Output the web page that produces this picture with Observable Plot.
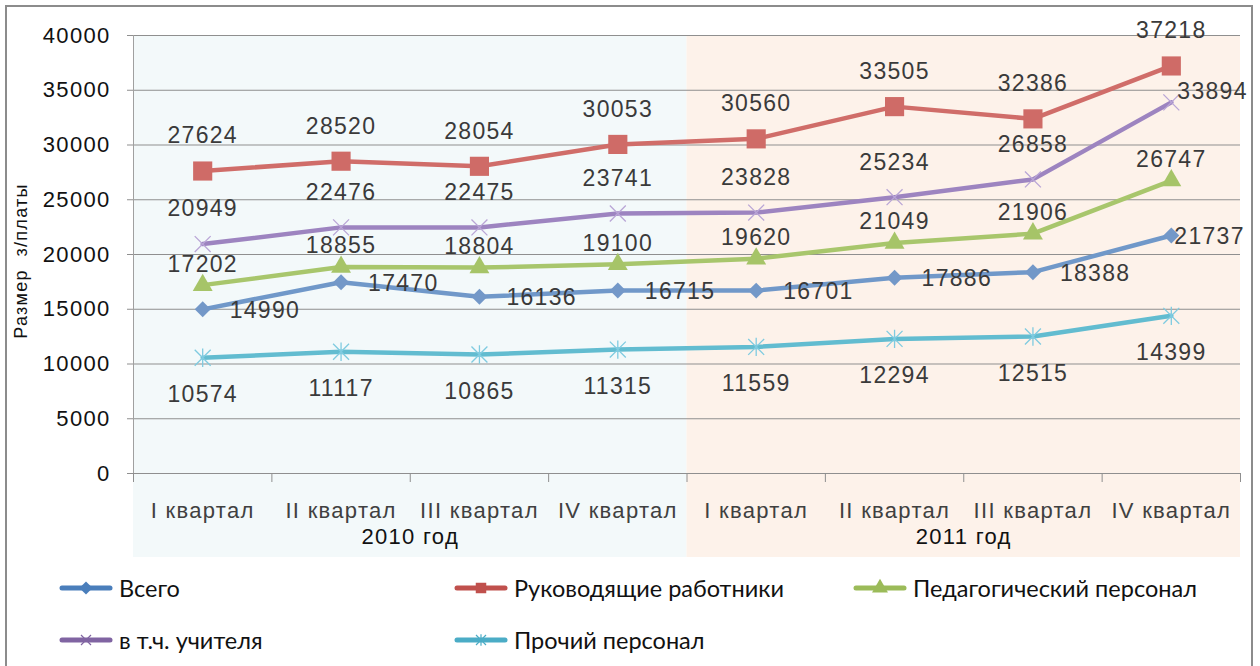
<!DOCTYPE html>
<html>
<head>
<meta charset="utf-8">
<script src="https://cdn.jsdelivr.net/npm/d3@7"></script>
<script src="https://cdn.jsdelivr.net/npm/@observablehq/plot@0.6"></script>
<style>
html, body { margin: 0; padding: 0; background: #fff; }
#wrap { position: relative; width: 1260px; height: 666px; overflow: hidden; font-family: "Liberation Sans", Arial, sans-serif; }
#frame { position: absolute; left: 5px; top: 5px; width: 1248px; height: 720px; border: 2px solid #8c8c8c; box-sizing: border-box; }
#chart { position: absolute; left: 0; top: 0; }
#chart svg text { letter-spacing: 1.3px; }
#legend { position: absolute; left: 0; top: 0; width: 1260px; height: 666px; pointer-events: none; font-family: Lato, "Open Sans", sans-serif; font-size: 23.5px; color: #111; }
.item { position: absolute; display: flex; align-items: center; height: 30px; white-space: nowrap; }
.item svg { margin-right: 5px; }
</style>
</head>
<body>
<div id="wrap">
  <div id="frame"></div>
  <div id="chart"></div>
  <div id="legend"></div>
</div>
<script>
// ---- data ----
const quarters = ["I квартал", "II квартал", "III квартал", "IV квартал", "I квартал", "II квартал", "III квартал", "IV квартал"];
const years = ["2010 год", "2011 год"];
const seriesNames = ["Всего", "Руководящие работники", "Педагогический персонал", "в т.ч. учителя", "Прочий персонал"];
const vsego   = [14990, 17470, 16136, 16715, 16701, 17886, 18388, 21737];
const rukovod = [27624, 28520, 28054, 30053, 30560, 33505, 32386, 37218];
const pedagog = [17202, 18855, 18804, 19100, 19620, 21049, 21906, 26747];
const uchitel = [20949, 22476, 22475, 23741, 23828, 25234, 26858, 33894];
const prochiy = [10574, 11117, 10865, 11315, 11559, 12294, 12515, 14399];
const yTicks = [0, 5000, 10000, 15000, 20000, 25000, 30000, 35000, 40000];
const yAxisTitle = "Размер  з/платы";

// ---- styling ----
const lineColors   = ["#7098c9", "#d06d69", "#a8c66c", "#9d84c0", "#62bcd0"];
const markerColors = ["#7398c8", "#cf6b67", "#a6c468", "#b9a5d6", "#7fcbe0"];
const legendColors = ["#4a7ebb", "#c0504d", "#9bbb59", "#8064a2", "#4bacc6"];
const panelColors  = ["#f3f9fa", "#fdf2ea"];

// custom symbols
const starSym = { draw(ctx, size) { const r = Math.sqrt(size) / 2;
  ctx.moveTo(-r, -r); ctx.lineTo(r, r); ctx.moveTo(r, -r); ctx.lineTo(-r, r);
  ctx.moveTo(0, -r * 1.15); ctx.lineTo(0, r * 1.15); } };
const timesSym = { draw(ctx, size) { const r = Math.sqrt(size) / 2;
  ctx.moveTo(-r, -r); ctx.lineTo(r, r); ctx.moveTo(r, -r); ctx.lineTo(-r, r); } };

const allSeries = [vsego, rukovod, pedagog, uchitel, prochiy];
const rows = allSeries.map((vals, s) => vals.map((v, i) => ({ s, i, x: i + 0.5, v })));
const yearRows = years.map((name, k) => ({ name, k, start: k * 4, end: k * 4 + 4 }));

const marks = [];
// panels
marks.push(Plot.rect(yearRows, { x1: "start", x2: "end", y1: 0, y2: 40000, fill: d => panelColors[d.k], insetBottom: -84 }));
// grid & axes
marks.push(Plot.gridY(yTicks, { stroke: "#8f8f8f", strokeOpacity: 1 }));
marks.push(Plot.ruleY([0], { stroke: "#8f8f8f" }));
marks.push(Plot.ruleX([0], { stroke: "#a0a0a0" }));
marks.push(Plot.axisY(yTicks, { tickSize: 6, tickPadding: 17, fontSize: 22, fill: "#111", stroke: "#8f8f8f", label: null, tickFormat: d => String(d) }));
marks.push(Plot.axisX(d3.range(9), { tickSize: 9, tickFormat: () => "", stroke: "#8f8f8f", label: null }));
marks.push(Plot.axisX(d3.range(8).map(i => i + 0.5), { tickSize: 0, tickPadding: 29, fontSize: 22, fill: "#404040", label: null, tickFormat: v => quarters[Math.floor(v)] }));
marks.push(Plot.text(yearRows, { x: d => (d.start + d.end) / 2, y: 0, text: "name", dy: 63, fontSize: 22, fill: "#111" }));

// lines
rows.forEach((r, s) => marks.push(Plot.line(r, { x: "x", y: "v", stroke: lineColors[s], strokeWidth: 4.5 })));
// markers
marks.push(Plot.dot(rows[0], { x: "x", y: "v", symbol: "diamond2", r: 7.2, fill: markerColors[0], stroke: "none" }));
marks.push(Plot.dot(rows[1], { x: "x", y: "v", symbol: "square", r: 10.8, fill: markerColors[1], stroke: "none" }));
marks.push(Plot.dot(rows[2], { x: "x", y: "v", symbol: "triangle", r: 7.4, fill: markerColors[2], stroke: "none" }));
marks.push(Plot.dot(rows[3], { x: "x", y: "v", symbol: timesSym, r: 9, fill: "none", stroke: markerColors[3], strokeWidth: 1.3 }));
marks.push(Plot.dot(rows[4], { x: "x", y: "v", symbol: starSym, r: 9, fill: "none", stroke: markerColors[4], strokeWidth: 1.3 }));

// data labels
const lab = { text: d => String(d.v), x: "x", y: "v", fontSize: 23, fill: "#3a3a3a" };
marks.push(Plot.text(rows[0].filter(d => d.i < 7), { ...lab, dx: 27, dy: 1, textAnchor: "start" }));
marks.push(Plot.text(rows[0].filter(d => d.i === 7), { ...lab, dx: 3, dy: 1, textAnchor: "start" }));
marks.push(Plot.text(rows[1], { ...lab, dy: -35 }));
marks.push(Plot.text(rows[2], { ...lab, dy: -21 }));
marks.push(Plot.text(rows[3].filter(d => d.i < 7), { ...lab, dy: -35 }));
marks.push(Plot.text(rows[3].filter(d => d.i === 7), { ...lab, dx: 6, dy: -11, textAnchor: "start" }));
marks.push(Plot.text(rows[4], { ...lab, dy: 37 }));

const chart = Plot.plot({
  width: 1260,
  height: 666,
  marginLeft: 133,
  marginRight: 20,
  marginTop: 35,
  marginBottom: 193,
  style: { background: "transparent", fontFamily: "'Liberation Sans', Arial, sans-serif", overflow: "visible" },
  x: { type: "linear", domain: [0, 8], axis: null },
  y: { domain: [0, 40000], axis: null },
  marks
});
document.getElementById("chart").appendChild(chart);

// y axis title (rotated)
const svg = d3.select(chart);
svg.append("text")
  .attr("transform", "translate(27,261) rotate(-90)")
  .attr("text-anchor", "middle")
  .attr("font-size", 18)
  .attr("fill", "#111")
  .text(yAxisTitle);

// ---- legend ----
const legendPos = [[58, 588], [453, 588], [852, 588], [58, 640], [453, 640]];
const legendSymbols = [d3.symbolDiamond2, d3.symbolSquare, d3.symbolTriangle, timesSym, starSym];
const legendSizes = [110, 110, 110, 100, 100];
const legend = d3.select("#legend");
seriesNames.forEach((name, s) => {
  const item = legend.append("div").attr("class", "item")
    .style("left", legendPos[s][0] + "px").style("top", (legendPos[s][1] - 15) + "px");
  const sv = item.append("svg").attr("width", 56).attr("height", 30);
  sv.append("line").attr("x1", 4).attr("x2", 52).attr("y1", 15).attr("y2", 15)
    .attr("stroke", legendColors[s]).attr("stroke-width", 5).attr("stroke-linecap", "round");
  const filled = s < 3;
  sv.append("path").attr("transform", "translate(28,15)")
    .attr("d", d3.symbol(legendSymbols[s], legendSizes[s])())
    .attr("fill", filled ? legendColors[s] : "none")
    .attr("stroke", filled ? "none" : legendColors[s]).attr("stroke-width", 1.2);
  item.append("span").text(name);
});
</script>
</body>
</html>
